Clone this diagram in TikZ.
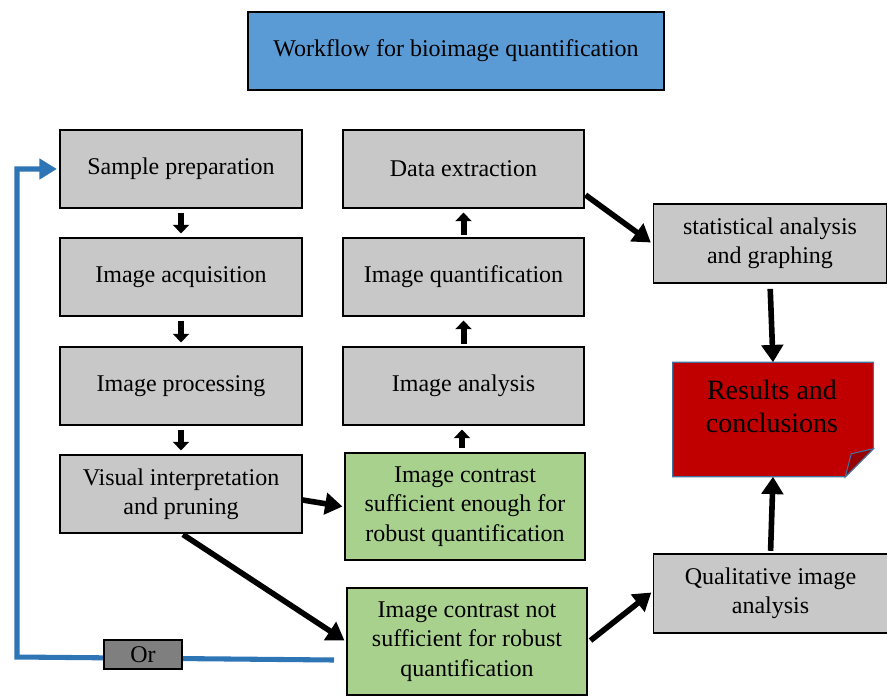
\documentclass[tikz,border=0pt]{standalone}
\usepackage{fontspec}
\setmainfont{Liberation Serif}
\newfontfamily\tnr{Liberation Serif}
\usetikzlibrary{arrows.meta,calc}
\definecolor{boxgray}{RGB}{200,200,200}
\definecolor{boxgreen}{RGB}{169,209,142}
\definecolor{titleblue}{RGB}{91,155,213}
\definecolor{resred}{RGB}{192,0,0}
\definecolor{folddark}{RGB}{150,0,0}
\definecolor{resedge}{RGB}{65,113,156}
\definecolor{orgray}{RGB}{127,127,127}
\definecolor{loopblue}{RGB}{46,117,182}
\begin{document}
\begin{tikzpicture}[x=0.75pt,y=-0.75pt,
  txt/.style={align=center,font=\tnr\fontsize{18}{22}\selectfont,inner sep=0pt},
  graybox/.style={txt,draw=black,line width=0.8pt,fill=boxgray,minimum width=181.5pt,minimum height=58.5pt},
  greenbox/.style={txt,draw=black,line width=0.8pt,fill=boxgreen,minimum width=180pt,minimum height=80.25pt},
  sidebox/.style={txt,draw=black,line width=0.8pt,fill=boxgray,minimum width=175pt,minimum height=59.25pt},
  smallarr/.style={-{Triangle[length=6.5pt,width=12pt]},line width=4.5pt,black},
  bigarr/.style={-{Triangle[length=13pt,width=16pt]},line width=4.2pt,black},
  looparr/.style={-{Triangle[length=13pt,width=15pt]},line width=3.8pt,loopblue,line join=miter}
]
\useasboundingbox (0,0) rectangle (887,695);

\node[txt,draw=black,line width=0.8pt,fill=titleblue,minimum width=312pt,minimum height=58.5pt] (title) at (456,51) {Workflow for bioimage quantification};

\node[graybox] (sp) at (181,169) {Sample preparation};
\node[graybox] (ia) at (181,277) {Image acquisition};
\node[graybox] (ip) at (181,386) {Image processing};
\node[graybox] (vi) at (181,494) {Visual interpretation\\and pruning};

\node[graybox,minimum width=180.75pt] (de) at (463.5,169) {Data extraction};
\node[graybox,minimum width=180.75pt] (iq) at (463.5,277) {Image quantification};
\node[graybox,minimum width=180.75pt] (ian) at (463.5,386) {Image analysis};

\node[greenbox] (sc) at (465,506.5) {Image contrast\\sufficient enough for\\robust quantification};
\node[greenbox] (nsc) at (467,641.5) {Image contrast not\\sufficient for robust\\quantification};

\node[sidebox] (stat) at (770,243.5) {statistical analysis\\and graphing};
\node[sidebox] (qual) at (770.5,593.5) {Qualitative image\\analysis};

\node[minimum width=150pt,minimum height=85.5pt,inner sep=0pt] (res) at (773,419.5) {};
\draw[resedge,line width=0.8pt,fill=resred] (res.north west) -- (res.north east) -- ($(res.south east)+(0,-28)$) -- ($(res.south east)+(-28,0)$) -- (res.south west) -- cycle;
\draw[resedge,line width=0.8pt,fill=folddark] ($(res.south east)+(-28,0)$) -- ($(res.south east)+(-22,-23)$) -- ($(res.south east)+(0,-28)$) -- cycle;
\node[align=center,inner sep=0pt,font=\tnr\fontsize{21}{25}\selectfont] (restxt) at ($(res.center)+(-1,-13)$) {Results and\\conclusions};

% left column arrows
\draw[smallarr,shorten <=3pt,shorten >=3pt] (sp) -- (ia);
\draw[smallarr,shorten <=3pt,shorten >=3pt] (ia) -- (ip);
\draw[smallarr,shorten <=3pt,shorten >=3pt] (ip) -- (vi);
% middle column arrows
\draw[smallarr,shorten <=2pt,shorten >=3pt] (ian) -- (iq);
\draw[smallarr,shorten <=2pt,shorten >=3pt] (iq) -- (de);
\draw[smallarr,shorten <=3pt,shorten >=3pt] ($(sc.north)+(-3,0)$) -- ($(ian.south)+(-1.5,0)$);

\draw[bigarr] ($(vi.east)+(0,6)$) -- ($(sc.west)+(-2,0)$);
\draw[bigarr] ($(vi.south)+(2,1)$) -- ($(nsc.west)+(-2,-1)$);
\draw[bigarr] ($(nsc.east)+(3,-1)$) -- ($(qual.west)+(-2,-1)$);
\draw[bigarr] ($(de.east)+(1,26)$) -- ($(stat.west)+(-2,-1)$);
\draw[bigarr,shorten <=4pt] (stat.south) -- (res.north);
\draw[bigarr,shorten <=2pt] (qual.north) -- (res.south);

% feedback loop
\coordinate (bs) at (334,660);
\coordinate (bl) at (17,657);
\draw[looparr,shorten >=2pt] (bs) -- (bl) |- (sp.west);
\node[txt,draw=black,line width=0.8pt,fill=orgray,minimum width=58.5pt,minimum height=21.75pt] (or) at (143,654.5) {Or};
\end{tikzpicture}
\end{document}
